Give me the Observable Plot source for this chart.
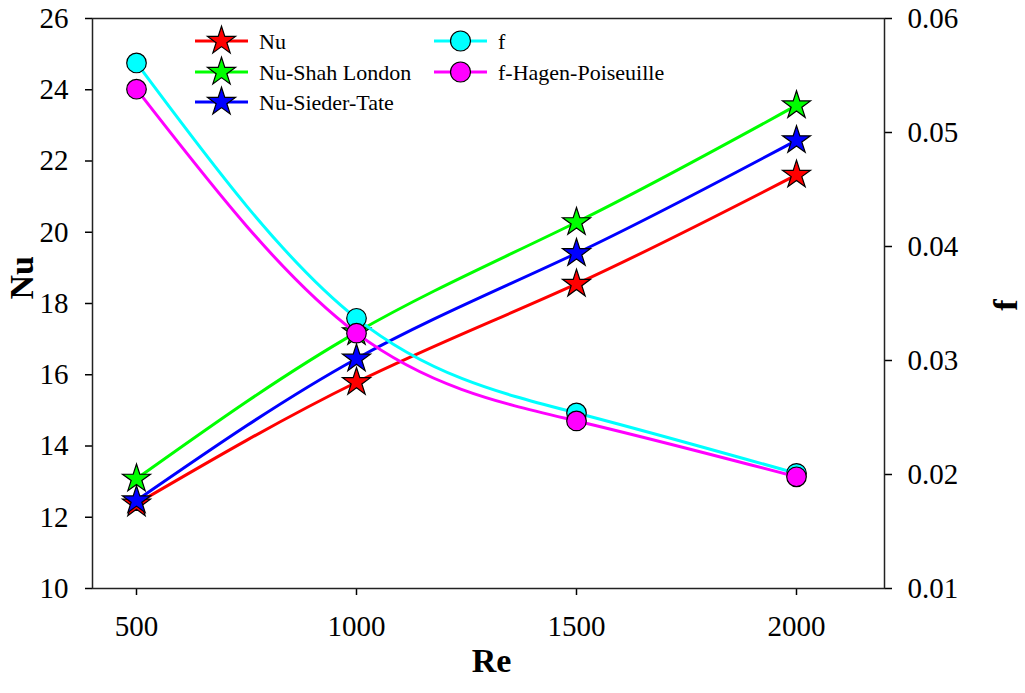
<!DOCTYPE html>
<html>
<head>
<meta charset="utf-8">
<script src="https://cdn.jsdelivr.net/npm/d3@7"></script>
<script src="https://cdn.jsdelivr.net/npm/@observablehq/plot@0.6"></script>
<style>
  html, body { margin: 0; padding: 0; background: #fff; }
  #chart { width: 1025px; height: 693px; }
  #chart svg, #chart svg text { font-family: "Liberation Serif", "Times New Roman", serif !important; }
</style>
</head>
<body>
<div id="chart"></div>
<script>
// ---- data ----
const Re = [500, 1000, 1500, 2000];
const Nu = [12.38, 15.79, 18.55, 21.61];
const NuShahLondon = [13.08, 17.19, 20.28, 23.56];
const NuSiederTate = [12.47, 16.45, 19.41, 22.58];
const f = [0.0561, 0.0337, 0.0254, 0.0201];
const fHagenPoiseuille = [0.0538, 0.0324, 0.0247, 0.0198];

const xTicks = [500, 1000, 1500, 2000];
const nuTicks = [10, 12, 14, 16, 18, 20, 22, 24, 26];
const fTicks = [0.01, 0.02, 0.03, 0.04, 0.05, 0.06];

const seriesNames = ["Nu", "Nu-Shah London", "Nu-Sieder-Tate", "f", "f-Hagen-Poiseuille"];
const seriesColors = ["#ff0000", "#00ff00", "#0000ff", "#00ffff", "#ff00ff"];

// ---- secondary axis mapping (f -> Nu scale) ----
const nuDomain = [10, 26];
const fDomain = [0.01, 0.06];
const fToNu = v => nuDomain[0] + (v - fDomain[0]) / (fDomain[1] - fDomain[0]) * (nuDomain[1] - nuDomain[0]);
const nuToF = v => fDomain[0] + (v - nuDomain[0]) / (nuDomain[1] - nuDomain[0]) * (fDomain[1] - fDomain[0]);

const mk = (vals, conv) => Re.map((r, i) => ({Re: r, y: conv ? conv(vals[i]) : vals[i]}));
const sNu = mk(Nu), sShah = mk(NuShahLondon), sSieder = mk(NuSiederTate);
const sF = mk(f, fToNu), sFHP = mk(fHagenPoiseuille, fToNu);

const font = "Liberation Serif, Times New Roman, serif";

function series(data, color, symbol, r) {
  return [
    Plot.line(data, {x: "Re", y: "y", stroke: color, strokeWidth: 3, curve: "natural"}),
    Plot.dot(data, {x: "Re", y: "y", symbol, r, fill: color, stroke: "#000", strokeWidth: 1.2})
  ];
}

const chart = Plot.plot({
  width: 1025,
  height: 693,
  marginLeft: 92,
  marginRight: 141,
  marginTop: 18,
  marginBottom: 105,
  style: {fontFamily: font, fontSize: "29px", background: "#fff", color: "#000"},
  x: {domain: [400, 2200]},
  y: {domain: nuDomain},
  marks: [
    Plot.axisX({ticks: xTicks, tickSize: 7, tickPadding: 20, tickFormat: d => String(d), fontSize: 29, label: null, strokeWidth: 1.5}),
    Plot.axisY({anchor: "left", ticks: nuTicks, tickSize: 7, tickPadding: 17, tickFormat: d => String(d), fontSize: 29, label: null, strokeWidth: 1.5}),
    Plot.axisY({anchor: "right", ticks: fTicks.map(fToNu), tickSize: 7, tickPadding: 16,
      tickFormat: d => d3.format(".2f")(nuToF(d)), fontSize: 29, label: null, strokeWidth: 1.5}),
    Plot.frame({stroke: "#222", strokeWidth: 1.5}),
    ...series(sNu, seriesColors[0], "star", 8.8),
    ...series(sShah, seriesColors[1], "star", 8.8),
    ...series(sSieder, seriesColors[2], "star", 8.8),
    ...series(sF, seriesColors[3], "circle", 9.8),
    ...series(sFHP, seriesColors[4], "circle", 9.8),
    Plot.text(["Nu"], {frameAnchor: "left", dx: -70, dy: -4, rotate: -90, text: d => d, fontSize: 34, fontWeight: "bold"}),
    Plot.text(["f"], {frameAnchor: "right", dx: 122, dy: -4, rotate: -90, text: d => d, fontSize: 34, fontWeight: "bold"}),
    Plot.text(["Re"], {frameAnchor: "bottom", dx: 3, dy: 83, text: d => d, fontSize: 34, fontWeight: "bold"})
  ]
});

document.getElementById("chart").appendChild(chart);

// ---- legend inside the plot area ----
const legendItems = seriesNames.map((name, i) => ({
  name, color: seriesColors[i], symbol: i < 3 ? d3.symbolStar : d3.symbolCircle,
  r: i < 3 ? 8.8 : 10, col: i < 3 ? 0 : 1, row: i < 3 ? i : i - 3
}));
const colX = [195, 434];
const rowY = [41, 72, 102];
const svg = d3.select(chart);
const lg = svg.append("g").attr("class", "legend");
for (const it of legendItems) {
  const x0 = colX[it.col], y0 = rowY[it.row];
  const g = lg.append("g").attr("transform", `translate(${x0},${y0})`);
  g.append("line").attr("x1", 0).attr("x2", 53).attr("y1", 0).attr("y2", 0)
    .attr("stroke", it.color).attr("stroke-width", 3);
  g.append("path").attr("d", d3.symbol(it.symbol, Math.PI * it.r * it.r)())
    .attr("transform", "translate(26.5,0)")
    .attr("fill", it.color).attr("stroke", "#000").attr("stroke-width", 1.2);
  g.append("text").attr("x", 64).attr("y", 0).attr("dy", "0.35em")
    .attr("text-anchor", "start")
    .attr("font-family", font).attr("font-size", 22).attr("fill", "#000")
    .text(it.name);
}
</script>
</body>
</html>
